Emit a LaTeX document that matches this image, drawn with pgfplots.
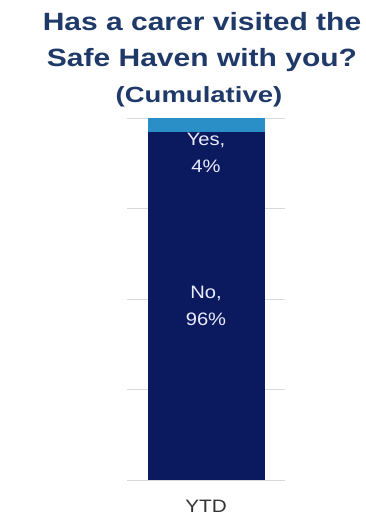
\documentclass[border=0pt]{standalone}
\usepackage{fontspec}
\setmainfont{Liberation Sans}
\usepackage{pgfplots}
\pgfplotsset{compat=1.18}
\definecolor{navybar}{HTML}{0B1A5E}
\definecolor{lightbar}{HTML}{2A8FC6}
\definecolor{titleblue}{HTML}{1F3A68}
\definecolor{gridgray}{HTML}{D9D9D9}
\definecolor{labelgray}{HTML}{333333}
\begin{document}
\begin{tikzpicture}[x=1pt,y=1pt]
\path[use as bounding box] (0,0) rectangle (366,522);
\begin{axis}[
  at={(127pt,42pt)}, anchor=south west,
  scale only axis, width=158pt, height=362pt,
  ybar stacked, bar width=117pt,
  xmin=-1, xmax=1, ymin=0, ymax=100,
  xtick={0}, xticklabels={YTD},
  ytick={0,25,50,75,100}, yticklabels={},
  ymajorgrids, grid style={gridgray, line width=0.9pt},
  axis line style={draw=none},
  major tick length=0pt,
  xticklabel style={font=\fontsize{18}{20}\selectfont, text=labelgray, yshift=-17pt, xscale=1.15, transform shape},
  clip=false,
]
\addplot[fill=navybar, draw=none] coordinates {(0,96)};
\addplot[fill=lightbar, draw=none] coordinates {(0,4)};
\coordinate (yeslab) at (axis cs:0,90.5);
\coordinate (nolab) at (axis cs:0,48);
\end{axis}
\node[align=center, text=white!92!blue, font=\fontsize{18}{27}\selectfont, xscale=1.12, transform shape] at (yeslab) {Yes,\\4\%};
\node[align=center, text=white!92!blue, font=\fontsize{18}{27}\selectfont, xscale=1.12, transform shape] at (nolab) {No,\\96\%};
\node[text=titleblue, font=\bfseries\fontsize{25}{30}\selectfont, xscale=1.2, transform shape] at (202,500) {Has a carer visited the};
\node[text=titleblue, font=\bfseries\fontsize{25}{30}\selectfont, xscale=1.2, transform shape] at (202,462) {Safe Haven with you?};
\node[text=titleblue, font=\bfseries\fontsize{22}{26}\selectfont, xscale=1.25, transform shape] at (199,425) {(Cumulative)};
\end{tikzpicture}
\end{document}
